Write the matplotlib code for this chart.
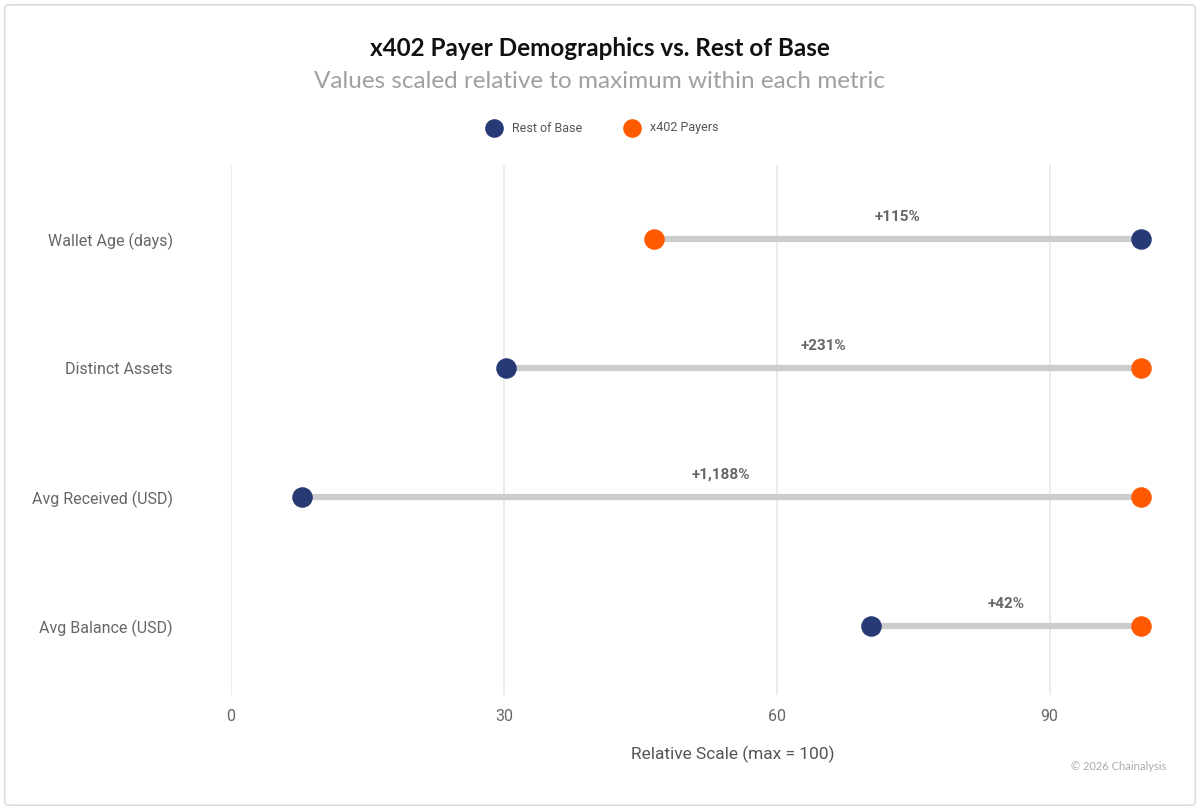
import matplotlib
matplotlib.use("Agg")
import matplotlib.pyplot as plt
from matplotlib.patches import FancyBboxPatch

# data
metrics = ["Wallet Age (days)", "Distinct Assets", "Avg Received (USD)", "Avg Balance (USD)"]
rest_of_base = [100, 30.2, 7.76, 70.4]
x402_payers = [46.5, 100, 100, 100]
diff_labels = ["+115%", "+231%", "+1,188%", "+42%"]
xticks = [0, 30, 60, 90]

navy = "#283a75"
orange = "#ff5a00"

plt.rcParams["font.family"] = ["Roboto", "DejaVu Sans"]

fig = plt.figure(figsize=(12, 8.1), dpi=100)
fig.patch.set_facecolor("white")

# light frame round the whole card
fig.patches.append(FancyBboxPatch((0.004, 0.006), 0.992, 0.988,
                                  boxstyle="round,pad=0,rounding_size=0.004",
                                  transform=fig.transFigure, fill=False,
                                  edgecolor="#dddddd", linewidth=1.2))

ax = fig.add_axes([231 / 1200, 1 - 695 / 810, (1186 - 231) / 1200, (695 - 165) / 810])

ypos = [3, 2, 1, 0]
for y, r, x, lab in zip(ypos, rest_of_base, x402_payers, diff_labels):
    ax.plot([r, x], [y, y], color="#cccccc", linewidth=4.5, solid_capstyle="butt", zorder=2)
    ax.annotate(lab, xy=((r + x) / 2, y), xytext=(0, 11), textcoords="offset points",
                ha="center", va="bottom", fontsize=11, fontweight="bold", color="#666666")

ax.scatter(rest_of_base, ypos, s=190, color=navy, zorder=3, clip_on=False, label="Rest of Base")
ax.scatter(x402_payers, ypos, s=190, color=orange, zorder=3, clip_on=False, label="x402 Payers")

ax.set_xlim(0, 105)
ax.set_ylim(-0.535, 3.574)
ax.set_xticks(xticks)
ax.set_yticks(ypos)
ax.set_yticklabels(metrics)
ax.tick_params(axis="y", length=0, pad=42, labelsize=11.5, labelcolor="#666666")
ax.tick_params(axis="x", length=0, pad=10, labelsize=11.5, labelcolor="#666666")
ax.grid(axis="x", color="#e8e8e8", linewidth=1.2)
ax.set_axisbelow(True)
for s in ax.spines.values():
    s.set_visible(False)
ax.set_xlabel("Relative Scale (max = 100)", fontsize=12.5, color="#555555")
ax.xaxis.set_label_coords(0.525, -0.095)

fig.text(0.5, 1 - 48 / 810, "x402 Payer Demographics vs. Rest of Base", ha="center", va="center",
         fontsize=17.5, fontweight="bold", color="#111111", family=["Lato", "DejaVu Sans"])
fig.text(0.5, 1 - 81 / 810, "Values scaled relative to maximum within each metric", ha="center",
         va="center", fontsize=17.5, color="#a0a0a0", family=["Lato", "DejaVu Sans"])

leg = fig.legend(handles=ax.collections, labels=["Rest of Base", "x402 Payers"],
                 loc="center", bbox_to_anchor=(0.5, 1 - 128 / 810), ncol=2, frameon=False,
                 fontsize=9, labelcolor="#555555", handletextpad=0.4, columnspacing=3,
                 markerscale=0.9)

fig.text(1166 / 1200, 1 - 767 / 810, "\u00a9 2026 Chainalysis", ha="right", va="center",
         fontsize=8, color="#aaaaaa", family=["Lato", "DejaVu Sans"])

fig.savefig("out.png", dpi=100, facecolor="white")
